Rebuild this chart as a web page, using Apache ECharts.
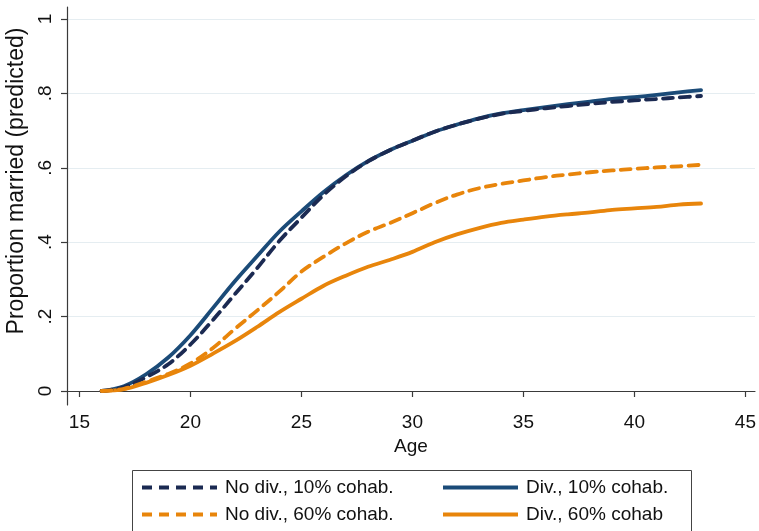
<!DOCTYPE html>
<html>
<head>
<meta charset="utf-8">
<script src="https://cdn.jsdelivr.net/npm/echarts@6/dist/echarts.min.js"></script>
<style>
html,body{margin:0;padding:0;background:#fff;}
#chart{width:759px;height:531px;}
</style>
</head>
<body>
<div id="chart"></div>
<script>
// ---- data ----
const ages = [16,17,18,19,20,21,22,23,24,25,26,27,28,29,30,31,32,33,34,35,36,37,38,39,40,41,42,43];
const noDiv10 = [0.000,0.010,0.037,0.072,0.125,0.190,0.260,0.330,0.403,0.466,0.527,0.577,0.617,0.648,0.673,0.697,0.716,0.732,0.745,0.753,0.760,0.766,0.772,0.777,0.781,0.785,0.789,0.793];
const div10   = [0.000,0.013,0.045,0.090,0.150,0.222,0.295,0.362,0.428,0.483,0.535,0.580,0.618,0.648,0.673,0.697,0.716,0.733,0.746,0.755,0.763,0.771,0.778,0.785,0.790,0.796,0.803,0.809];
const noDiv60 = [0.000,0.006,0.025,0.046,0.074,0.115,0.167,0.216,0.267,0.321,0.361,0.397,0.428,0.452,0.478,0.505,0.528,0.545,0.557,0.566,0.575,0.582,0.588,0.593,0.597,0.601,0.604,0.608];
const div60   = [0.000,0.005,0.022,0.043,0.068,0.100,0.134,0.172,0.212,0.248,0.283,0.310,0.334,0.353,0.374,0.400,0.421,0.438,0.452,0.461,0.469,0.475,0.480,0.487,0.491,0.495,0.501,0.504];
const seriesNames = ['No div., 10% cohab.','Div., 10% cohab.','No div., 60% cohab.','Div., 60% cohab'];
const xTicks = [15,20,25,30,35,40,45];
const yTicks = [0,0.2,0.4,0.6,0.8,1];
const xTitle = 'Age';
const yTitle = 'Proportion married (predicted)';

const FONT = "'Liberation Sans', Arial, Helvetica, sans-serif";
const NAVY_D = '#1b2a52';
const NAVY_S = '#1b4b78';
const ORANGE = '#e8850b';
const DASH = [10,7];

function pairs(vals){ return ages.map((a,i)=>[a, vals[i]]); }

const chart = echarts.init(document.getElementById('chart'), null, {renderer:'canvas'});

function mkSeries(name, vals, color, dashed){
  return {
    name: name, type:'line', xAxisIndex:0, yAxisIndex:0,
    data: pairs(vals), showSymbol:false, symbol:'none', smooth:0.35,
    lineStyle:{color:color, width:3.8, type: dashed ? DASH : 'solid', cap:'round', join:'round'},
    itemStyle:{color:color}, z: dashed ? 4 : 3
  };
}

function legendAt(name, left, top){
  return {
    data:[name], left:left, top:top, padding:0, itemWidth:75, itemHeight:18, itemGap:0,
    itemStyle:{opacity:0, borderWidth:0},
    lineStyle:{width:4, cap:'butt'},
    textStyle:{fontFamily:FONT, fontSize:19, color:'#111', padding:[0,0,0,3]},
    selectedMode:false
  };
}

const option = {
  backgroundColor:'#fff',
  animation:false,
  grid:[
    {left:67, right:2, top:19, height:372},
    {left:67, width:690, top:7, height:398}
  ],
  xAxis:[
    {type:'value', gridIndex:0, min:14.44, max:45.43, offset:13,
      axisLine:{show:true, lineStyle:{color:'#3a3a3a', width:1.2}},
      axisTick:{show:true, length:6, customValues:xTicks, lineStyle:{color:'#3a3a3a', width:1.2}},
      axisLabel:{show:true, customValues:xTicks, margin:9, fontFamily:FONT, fontSize:19, color:'#111'},
      splitLine:{show:false},
      name:xTitle, nameLocation:'middle', nameGap:33,
      nameTextStyle:{fontFamily:FONT, fontSize:19, color:'#111'}
    },
    {type:'value', gridIndex:1, min:0, max:1, show:false}
  ],
  yAxis:[
    {type:'value', gridIndex:0, min:0, max:1, interval:0.2,
      axisLine:{show:false},
      axisTick:{show:true, length:6, lineStyle:{color:'#3a3a3a', width:1.2}},
      axisLabel:{show:true, rotate:90, margin:12, fontFamily:FONT, fontSize:19, color:'#111',
        formatter:function(v){ if(Math.abs(v)<1e-9) return '0'; if(Math.abs(v-1)<1e-9) return '1'; return v.toFixed(1).replace(/^0/,''); }},
      splitLine:{show:true, lineStyle:{color:'#e5edf1', width:1}}
    },
    {type:'value', gridIndex:1, min:0, max:1,
      axisLine:{show:true, lineStyle:{color:'#3a3a3a', width:1.2}},
      axisTick:{show:false}, axisLabel:{show:false}, splitLine:{show:false}
    }
  ],
  legend:[
    legendAt(seriesNames[0], 140, 478),
    legendAt(seriesNames[1], 441, 478),
    legendAt(seriesNames[2], 140, 505),
    legendAt(seriesNames[3], 441, 505)
  ],
  graphic:[
    {type:'rect', silent:true, shape:{x:132.5, y:470.5, width:559, height:80},
      style:{fill:null, stroke:'#444', lineWidth:1}},
    {type:'text', silent:true, x:17, y:181, rotation:Math.PI/2,
      style:{text:yTitle, fontFamily:FONT, fontSize:23, fill:'#111', textAlign:'center', textVerticalAlign:'middle'}}
  ],
  series:[
    mkSeries(seriesNames[0], noDiv10, NAVY_D, true),
    mkSeries(seriesNames[1], div10, NAVY_S, false),
    mkSeries(seriesNames[2], noDiv60, ORANGE, true),
    mkSeries(seriesNames[3], div60, ORANGE, false)
  ]
};
chart.setOption(option);
</script>
</body>
</html>
